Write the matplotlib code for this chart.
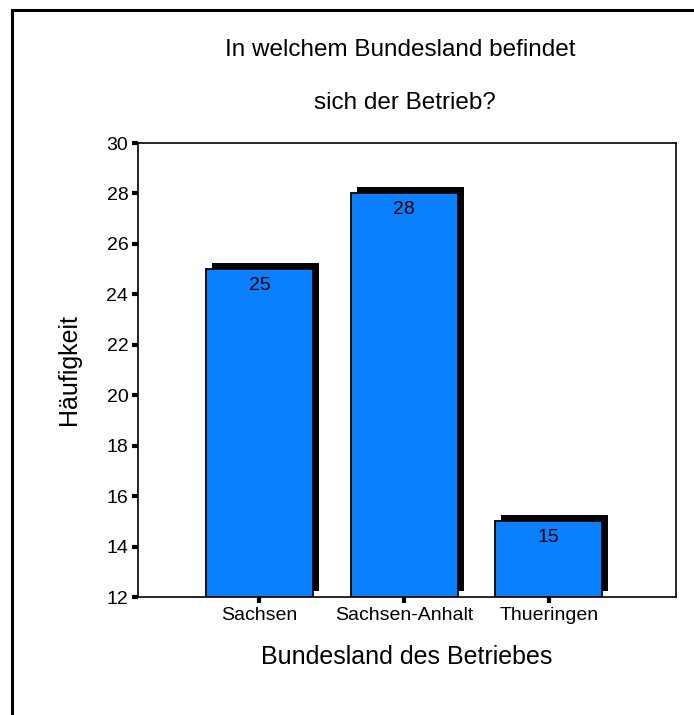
import matplotlib
matplotlib.use("Agg")
import matplotlib.pyplot as plt
import matplotlib.patheffects as pe
from matplotlib.patches import Rectangle

plt.rcParams['font.family'] = ['Liberation Sans', 'DejaVu Sans']

laender = ['Sachsen', 'Sachsen-Anhalt', 'Thueringen']
haeufigkeit = [25, 28, 15]
y_ticks = [12, 14, 16, 18, 20, 22, 24, 26, 28, 30]

W, H = 694, 715
fig = plt.figure(figsize=(W / 100, H / 100), dpi=100)
ax = fig.add_axes([138 / W, 1 - 597 / H, (676 - 138) / W, (597 - 143) / H])

x = range(len(laender))
shadow = [pe.SimplePatchShadow(offset=(4.3, 4.3), shadow_rgbFace='black', alpha=1.0), pe.Normal()]
bars = ax.bar(x, [v - 12 for v in haeufigkeit], bottom=12, width=0.74,
              color='#0a80ff', edgecolor='black', linewidth=1.3, zorder=3)
for b in bars:
    b.set_path_effects(shadow)

for xi, v in zip(x, haeufigkeit):
    ax.text(xi, v - 0.3, str(v), ha='center', va='top', fontsize=14, zorder=5)

ax.set_xlim(-0.84, 2.88)
ax.set_ylim(12, 30)
ax.set_yticks(y_ticks)
ax.set_xticks(list(x))
ax.set_xticklabels(laender)
ax.tick_params(axis='both', direction='out', length=4, width=3, labelsize=14, pad=3)
for s in ax.spines.values():
    s.set_linewidth(1.2)

ax.set_ylabel('Häufigkeit', fontsize=18, labelpad=18)
ax.set_xlabel('Bundesland des Betriebes', fontsize=18, labelpad=15)

fig.text(400 / W, 1 - 50 / H, 'In welchem Bundesland befindet', ha='center', va='center', fontsize=17.5)
fig.text(405 / W, 1 - 103 / H, 'sich der Betrieb?', ha='center', va='center', fontsize=17.5)

fig.patches.append(Rectangle((12 / W, -0.1), 1.2, 1 - 10 / H + 0.1, transform=fig.transFigure,
                             fill=False, edgecolor='black', linewidth=2.2))

fig.savefig('out.png', dpi=100)
